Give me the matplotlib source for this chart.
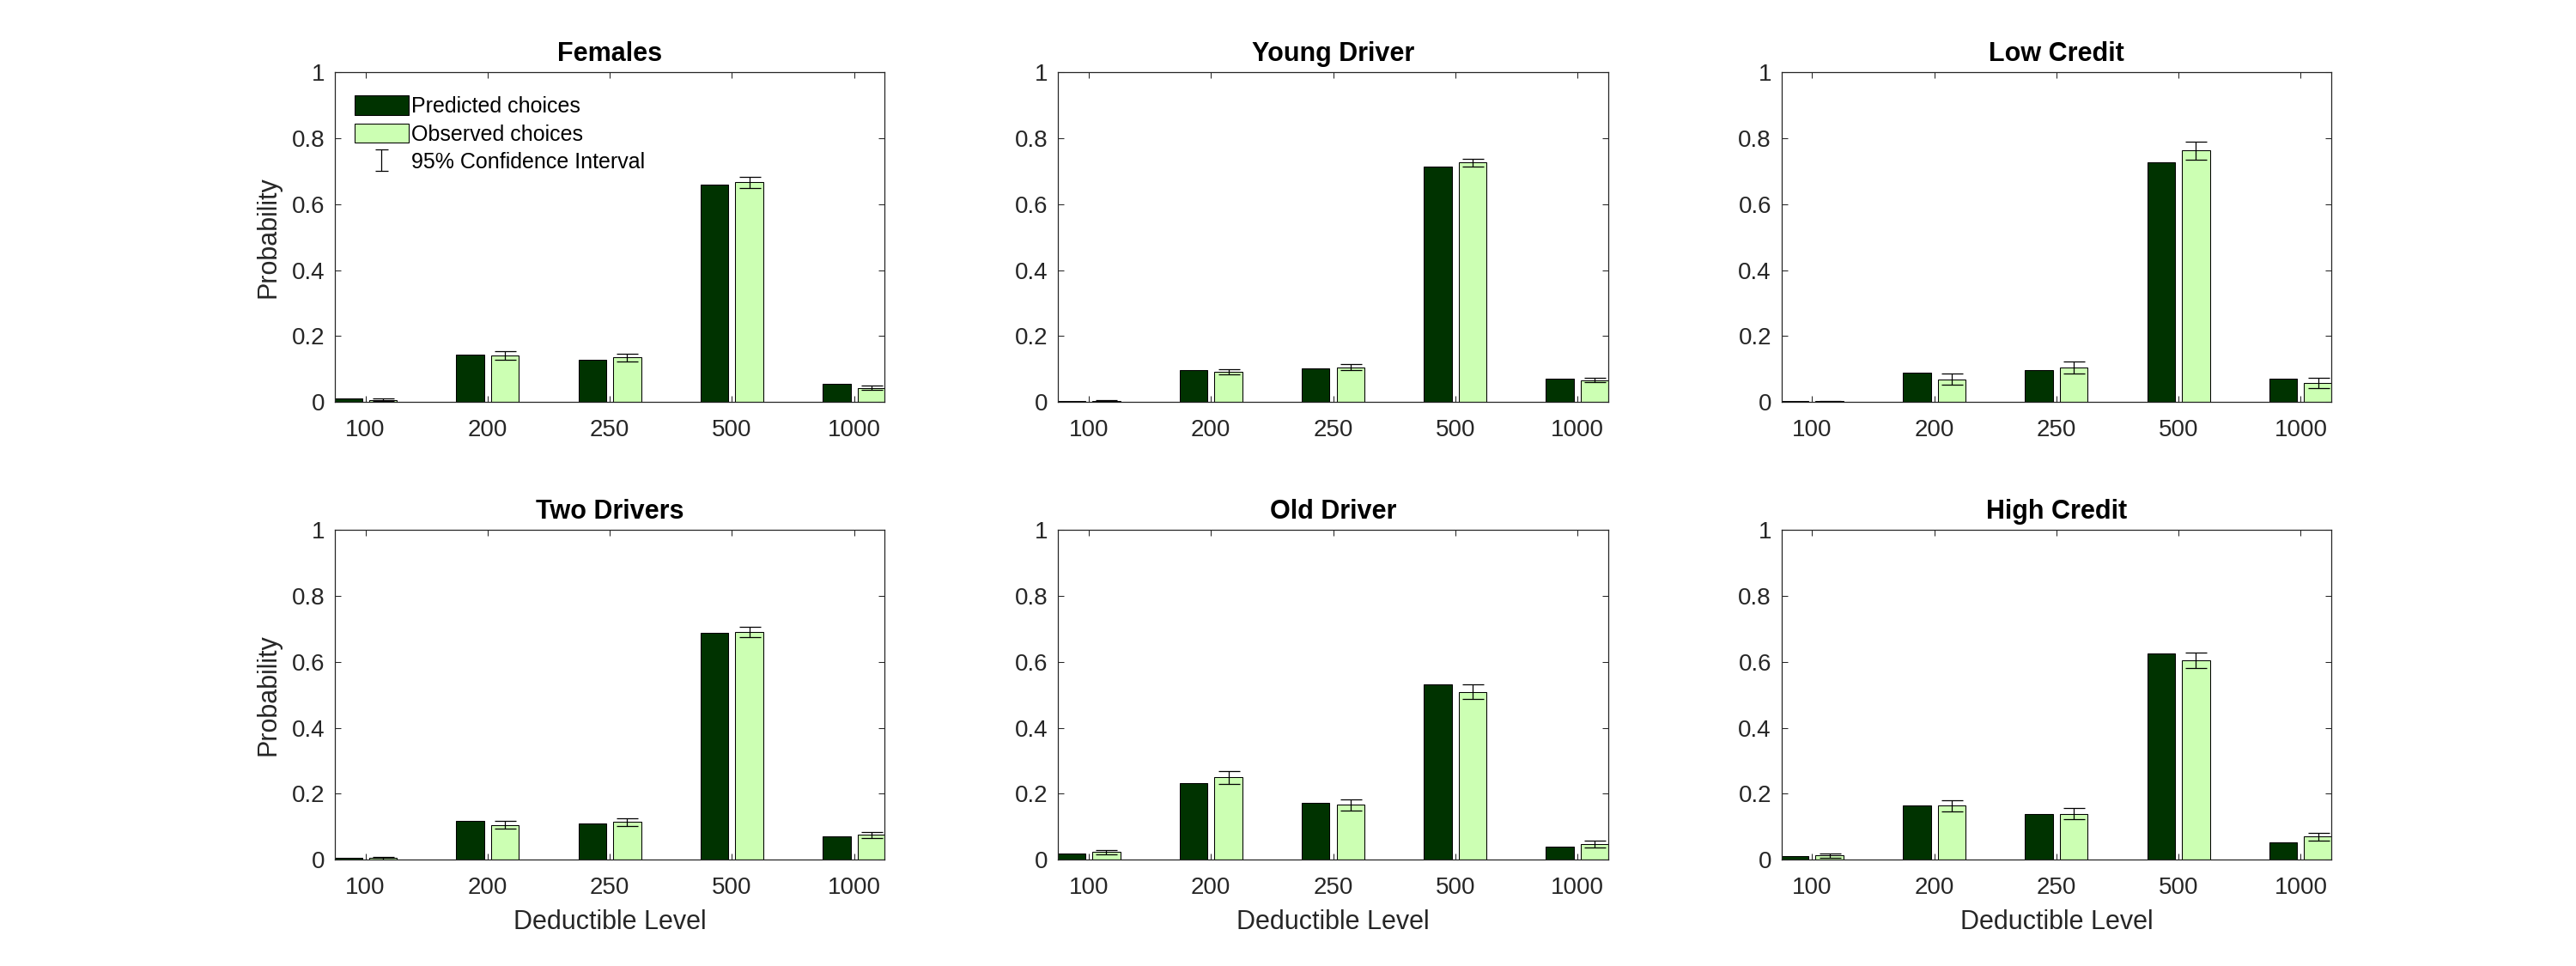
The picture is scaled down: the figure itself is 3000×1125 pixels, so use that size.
import matplotlib as mpl
mpl.use("Agg")
import matplotlib.pyplot as plt
import numpy as np
from matplotlib.ticker import FuncFormatter

plt.rcParams['font.family'] = ['Liberation Sans', 'DejaVu Sans']

deductibles = ['100', '200', '250', '500', '1000']
titles = ['Females', 'Young Driver', 'Low Credit', 'Two Drivers', 'Old Driver', 'High Credit']

pred_females = [0.010, 0.143, 0.127, 0.660, 0.054]
obs_females = [0.007, 0.140, 0.135, 0.667, 0.043]
ci_females = [0.003, 0.013, 0.012, 0.017, 0.007]

pred_young = [0.004, 0.098, 0.101, 0.714, 0.072]
obs_young = [0.003, 0.091, 0.106, 0.727, 0.066]
ci_young = [0.002, 0.008, 0.008, 0.012, 0.0065]

pred_lowcredit = [0.004, 0.090, 0.098, 0.728, 0.070]
obs_lowcredit = [0.002, 0.069, 0.104, 0.763, 0.057]
ci_lowcredit = [0.002, 0.017, 0.018, 0.028, 0.016]

pred_twodrivers = [0.007, 0.117, 0.109, 0.688, 0.070]
obs_twodrivers = [0.005, 0.106, 0.114, 0.691, 0.075]
ci_twodrivers = [0.004, 0.011, 0.011, 0.015, 0.008]

pred_old = [0.018, 0.232, 0.173, 0.533, 0.039]
obs_old = [0.023, 0.250, 0.167, 0.509, 0.047]
ci_old = [0.0065, 0.020, 0.017, 0.022, 0.0105]

pred_highcredit = [0.010, 0.164, 0.138, 0.627, 0.054]
obs_highcredit = [0.013, 0.164, 0.140, 0.605, 0.070]
ci_highcredit = [0.0067, 0.017, 0.017, 0.023, 0.012]

predicted = [pred_females, pred_young, pred_lowcredit, pred_twodrivers, pred_old, pred_highcredit]
observed = [obs_females, obs_young, obs_lowcredit, obs_twodrivers, obs_old, obs_highcredit]
cis = [ci_females, ci_young, ci_lowcredit, ci_twodrivers, ci_old, ci_highcredit]

dark = '#003300'
light = '#ccffb3'
tickcol = '#262626'

fig = plt.figure(figsize=(30, 11.25), dpi=100)

# matlab-ish subplot positions
lefts = [0.13, 0.4108, 0.6916]
bottoms = [0.5838, 0.11]
w, h = 0.2134, 0.3412

xt = np.arange(1, len(deductibles) + 1)
bw = 0.2286
off = 0.1428

for k in range(6):
    r, c = divmod(k, 3)
    ax = fig.add_axes([lefts[c], bottoms[r], w, h])
    b1 = ax.bar(xt - off, predicted[k], bw, color=dark, edgecolor='black', linewidth=0.75)
    b2 = ax.bar(xt + off, observed[k], bw, color=light, edgecolor='black', linewidth=0.75)
    ax.errorbar(xt + off, observed[k], yerr=cis[k], fmt='none', ecolor='black',
                elinewidth=0.9, capsize=9, capthick=0.9)

    ax.set_xlim(0.75, 5.25)
    ax.set_ylim(0, 1)
    ax.set_xticks(xt)
    ax.set_xticklabels(deductibles)
    ax.set_yticks(np.arange(0, 1.01, 0.2))
    ax.yaxis.set_major_formatter(FuncFormatter(lambda v, p: '%g' % round(v, 2)))
    ax.tick_params(axis='both', direction='in', length=4.7, width=0.75, labelsize=20,
                   colors=tickcol, top=True, right=True)
    ax.tick_params(axis='x', pad=14)
    ax.tick_params(axis='y', pad=8.5)
    for s in ax.spines.values():
        s.set_linewidth(0.9)
        s.set_color(tickcol)

    ax.set_title(titles[k], fontsize=22, fontweight='bold', pad=9.5)
    if c == 0:
        ax.set_ylabel('Probability', fontsize=22, color=tickcol, labelpad=9)
    if r == 1:
        ax.set_xlabel('Deductible Level', fontsize=22, color=tickcol, labelpad=9)

    if k == 0:
        eb = ax.errorbar([np.nan], [np.nan], yerr=[0.1], fmt='none', ecolor='black',
                         elinewidth=0.9, capsize=5.4, capthick=0.9)
        ax.legend([b1, b2, eb], ['Predicted choices', 'Observed choices', '95% Confidence Interval'],
                  loc='upper left', bbox_to_anchor=(0.036, 0.93), frameon=False,
                  fontsize=18, borderpad=0, borderaxespad=0, handlelength=2.5,
                  handleheight=1.0, handletextpad=0.15, labelspacing=0.32)

fig.savefig('out.png', dpi=100, facecolor='white')
